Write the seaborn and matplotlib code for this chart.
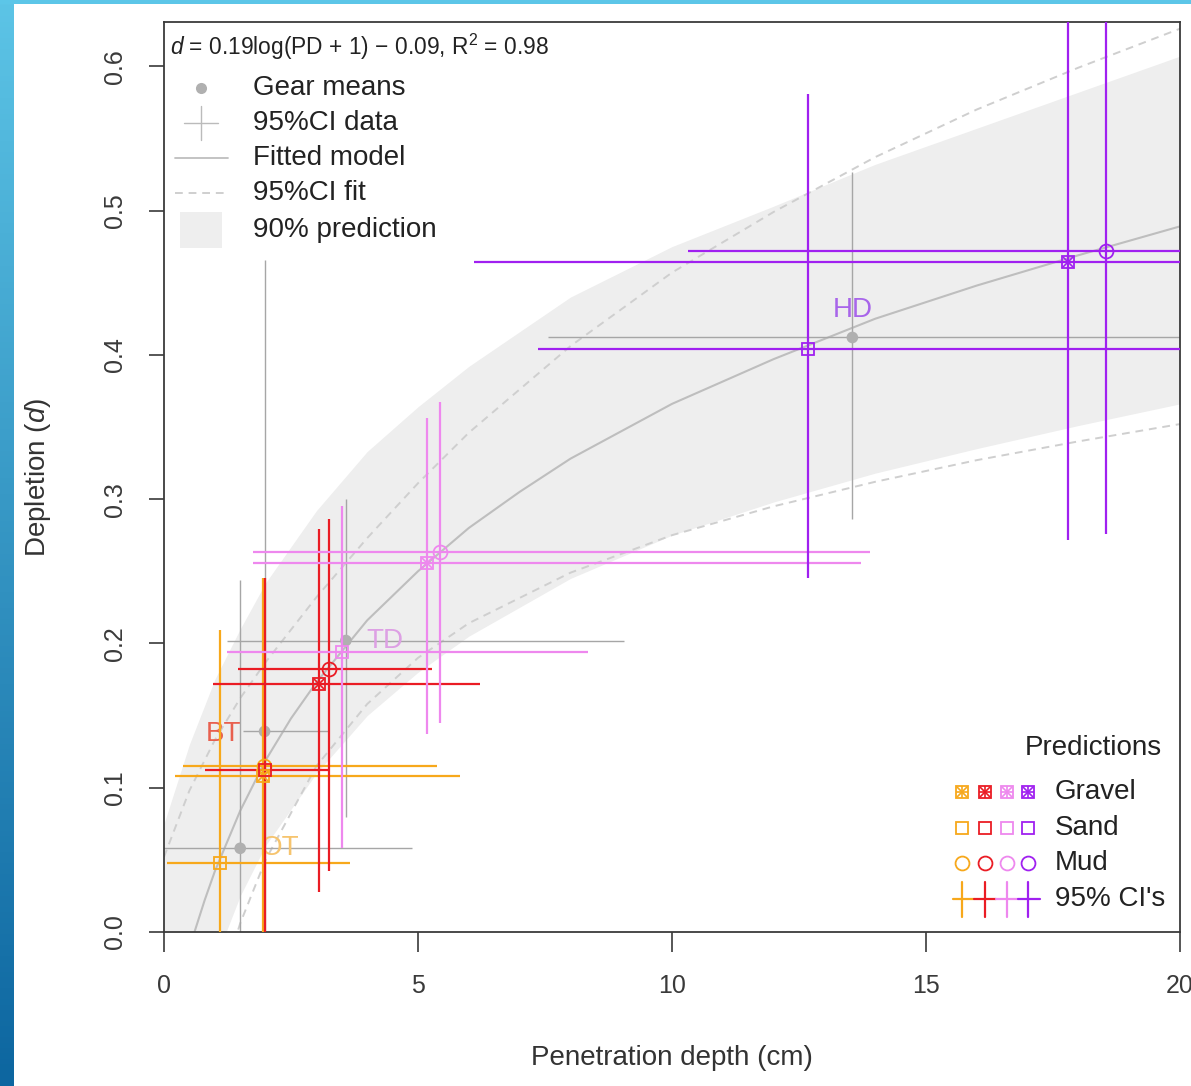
import numpy as np
import pandas as pd
import matplotlib
matplotlib.use("Agg")
import matplotlib.pyplot as plt
import seaborn as sns

# fitted model, 95% CI of fit and 90% prediction band
fit_x = [0.6, 0.8, 1, 1.5, 2, 2.5, 3, 4, 5, 6, 7, 8, 10, 12, 14, 16, 18, 20]
fit_y = [0.0, 0.022, 0.042, 0.084, 0.119, 0.148, 0.173, 0.216, 0.250, 0.280,
         0.305, 0.328, 0.366, 0.397, 0.425, 0.448, 0.469, 0.489]
ci_x = [0, 0.5, 1, 1.5, 2, 3, 4, 5, 6, 8, 10, 12, 14, 16, 18, 20]
ci_hi = [0.052, 0.098, 0.133, 0.162, 0.187, 0.232, 0.273, 0.311, 0.346, 0.406,
         0.457, 0.499, 0.537, 0.570, 0.599, 0.626]
ci_lo = [-0.232, -0.124, -0.050, 0.006, 0.050, 0.115, 0.158, 0.190, 0.214, 0.249,
         0.275, 0.295, 0.312, 0.327, 0.340, 0.352]
band_x = [0, 0.5, 1, 1.5, 2, 3, 4, 5, 6, 8, 10, 12, 14, 16, 18, 20]
band_hi = [0.075, 0.130, 0.175, 0.210, 0.242, 0.292, 0.333, 0.364, 0.392, 0.440,
           0.475, 0.503, 0.532, 0.557, 0.582, 0.607]
band_lo = [-0.10, -0.06, -0.02, 0.025, 0.060, 0.110, 0.150, 0.180, 0.205, 0.245,
           0.275, 0.298, 0.318, 0.335, 0.351, 0.366]

# gear means with 95% CI of the data
gears = ["OT", "BT", "TD", "HD"]
gear_pd = [1.50, 1.98, 3.58, 13.55]
gear_d = [0.058, 0.139, 0.202, 0.412]
gear_pd_lo = [-0.30, 1.56, 1.24, 7.56]
gear_pd_hi = [4.88, 3.23, 9.05, 21.0]
gear_d_lo = [-0.05, -0.05, 0.080, 0.286]
gear_d_hi = [0.244, 0.466, 0.300, 0.527]
gear_colors = ["#F7A81B", "#EA1C24", "#EE88EE", "#A020F0"]
label_colors = ["#F6C46E", "#E8604F", "#DDA0E4", "#A865EA"]

# predictions for each gear and sediment
pred_gear = ["OT", "OT", "OT", "BT", "BT", "BT", "TD", "TD", "TD", "HD", "HD", "HD"]
pred_sed = ["Gravel", "Sand", "Mud"] * 4
pred_pd = [1.95, 1.10, 1.97, 3.06, 1.98, 3.24, 5.17, 3.50, 5.43, 17.80, 12.67, 18.55]
pred_d = [0.108, 0.048, 0.115, 0.172, 0.112, 0.182, 0.256, 0.194, 0.263, 0.464, 0.404, 0.472]
pred_pd_lo = [0.22, 0.05, 0.37, 0.96, 0.81, 1.46, 1.75, 1.24, 1.75, 6.10, 7.37, 10.31]
pred_pd_hi = [5.83, 3.66, 5.37, 6.22, 3.23, 5.28, 13.72, 8.35, 13.90, 24.0, 24.0, 24.0]
pred_d_lo = [-0.05, -0.05, -0.05, 0.028, -0.05, 0.042, 0.137, 0.058, 0.145, 0.272, 0.245, 0.276]
pred_d_hi = [0.245, 0.209, 0.240, 0.279, 0.245, 0.286, 0.356, 0.295, 0.367, 0.70, 0.581, 0.70]

preds = pd.DataFrame({"gear": pred_gear, "sediment": pred_sed, "pd": pred_pd, "d": pred_d,
                      "pd_lo": pred_pd_lo, "pd_hi": pred_pd_hi,
                      "d_lo": pred_d_lo, "d_hi": pred_d_hi})
palette = dict(zip(gears, gear_colors))

sns.set_theme(style="white")
plt.rcParams["font.family"] = ["Liberation Sans", "DejaVu Sans"]
plt.rcParams["mathtext.fontset"] = "custom"
plt.rcParams["mathtext.rm"] = "Liberation Sans"
plt.rcParams["mathtext.it"] = "Liberation Sans:italic"

fig = plt.figure(figsize=(11.91, 10.86), dpi=100)

# blue frame strips of the slide
strip = fig.add_axes([0, 0, 14 / 1191, 1])
strip.imshow(np.linspace(0, 1, 200).reshape(-1, 1), aspect="auto",
             cmap=matplotlib.colors.LinearSegmentedColormap.from_list("b", ["#5CC4E6", "#0D66A0"]))
strip.axis("off")
top = fig.add_axes([0, 1 - 4 / 1086, 1, 4 / 1086])
top.set_facecolor("#5CC6E8")
top.set_xticks([]); top.set_yticks([])
for s in top.spines.values():
    s.set_visible(False)

ax = fig.add_axes([0.1377, 0.1418, 0.8531, 0.8379])
ax.set_xlim(0, 20)
ax.set_ylim(0, 0.6306)

ax.fill_between(band_x, band_lo, band_hi, color="#EEEEEE", lw=0, zorder=0.5)
sns.lineplot(x=fit_x, y=fit_y, color="#BEBEBE", lw=1.5, ax=ax, zorder=1)
sns.lineplot(x=ci_x, y=ci_hi, color="#CFCFCF", lw=1.4, ls=(0, (4, 3)), ax=ax, zorder=1)
sns.lineplot(x=ci_x, y=ci_lo, color="#CFCFCF", lw=1.4, ls=(0, (4, 3)), ax=ax, zorder=1)

# gear means
ax.hlines(gear_d, gear_pd_lo, gear_pd_hi, color="#A6A6A6", lw=1.0, zorder=2)
ax.vlines(gear_pd, gear_d_lo, gear_d_hi, color="#A6A6A6", lw=1.0, zorder=2)
sns.scatterplot(x=gear_pd, y=gear_d, color="#B0B0B0", s=70, edgecolor="none", ax=ax, zorder=3)
offsets = {"OT": (0.4, 0.0, "left"), "BT": (-0.45, -0.002, "right"),
           "TD": (0.4, 0.0, "left"), "HD": (0.0, 0.019, "center")}
for g, x, y, c in zip(gears, gear_pd, gear_d, label_colors):
    dx, dy, ha = offsets[g]
    ax.text(x + dx, y + dy, g, color=c, fontsize=20, ha=ha, va="center", zorder=2.5)


def draw_marker(ax, x, y, sed, color, size=9, transform=None, z=5):
    kw = dict(color=color, ls="none", zorder=z, clip_on=False)
    if transform is not None:
        kw["transform"] = transform
    if sed == "Mud":
        ax.plot(x, y, marker="o", ms=size + 1, mfc="none", mew=1.3, **kw)
    else:
        ax.plot(x, y, marker="s", ms=size, mfc="none", mew=1.3, **kw)
    if sed == "Gravel":
        ax.plot(x, y, marker="+", ms=size, mew=1.2, **kw)
        ax.plot(x, y, marker="x", ms=size * 0.75, mew=1.2, **kw)


# predictions: CI crosses, then symbols
for _, r in preds.iterrows():
    c = palette[r["gear"]]
    ax.hlines(r["d"], r["pd_lo"], r["pd_hi"], color=c, lw=1.6, zorder=4)
    ax.vlines(r["pd"], r["d_lo"], r["d_hi"], color=c, lw=1.6, zorder=4)
for _, r in preds.iterrows():
    draw_marker(ax, r["pd"], r["d"], r["sediment"], palette[r["gear"]])

# axes styling
for s in ax.spines.values():
    s.set_color("#3A3A3A")
    s.set_linewidth(1.3)
ax.set_xticks([0, 5, 10, 15, 20])
ax.set_yticks([0.0, 0.1, 0.2, 0.3, 0.4, 0.5, 0.6])
ax.set_yticklabels(["0.0", "0.1", "0.2", "0.3", "0.4", "0.5", "0.6"])
ax.tick_params(axis="x", direction="out", length=14.4, width=1.2, pad=16, labelsize=18,
               colors="#3A3A3A", bottom=True)
ax.tick_params(axis="y", direction="out", length=10.8, width=1.2, pad=16, labelsize=18,
               colors="#3A3A3A", left=True, labelrotation=90)
for lbl in ax.get_yticklabels():
    lbl.set_va("center")
ax.set_xlabel("Penetration depth (cm)", fontsize=20, color="#333333")
ax.set_ylabel("Depletion ($\\it{d}$)", fontsize=20, color="#333333")
ax.xaxis.set_label_coords(0.5, (932 - 1058) / 910)
ax.xaxis.label.set_va("center")
ax.yaxis.set_label_coords((38 - 164) / 1016, 0.5)
ax.yaxis.label.set_va("center")


def fx(px):
    return (px - 164) / 1016


def fy(py):
    return (932 - py) / 910


T = ax.transAxes
# top-left legend
ax.text(fx(170), fy(47), "$\\it{d}$ = 0.19log(PD + 1) \u2212 0.09, R$^2$ = 0.98",
        transform=T, fontsize=16.4, va="center", ha="left", color="#222222")
rows = [88, 123, 158, 193, 230]
names = ["Gear means", "95%CI data", "Fitted model", "95%CI fit", "90% prediction"]
for py, name in zip(rows, names):
    ax.text(fx(253), fy(py), name, transform=T, fontsize=20, va="center", ha="left",
            color="#222222")
ax.plot(fx(201), fy(88), "o", ms=8, color="#B0B0B0", mec="none", transform=T)
ax.plot([fx(184), fx(218)], [fy(123)] * 2, color="#BBBBBB", lw=1, transform=T)
ax.plot([fx(201)] * 2, [fy(106), fy(140)], color="#BBBBBB", lw=1, transform=T)
ax.plot([fx(175), fx(228)], [fy(158)] * 2, color="#BEBEBE", lw=1.3, transform=T)
ax.plot([fx(175), fx(228)], [fy(193)] * 2, color="#CFCFCF", lw=1.4, ls=(0, (4, 3)),
        transform=T)
ax.add_patch(plt.Rectangle((fx(180), fy(248)), fx(222) - fx(180), fy(212) - fy(248),
                           transform=T, color="#EEEEEE", lw=0))

# bottom-right legend
ax.text(fx(1162), fy(748), "Predictions", transform=T, fontsize=20, ha="right",
        va="center", color="#222222")
sym_x = [962, 985, 1007, 1028]
seds = ["Gravel", "Sand", "Mud"]
for py, sed in zip([792, 828, 863], seds):
    for px, c in zip(sym_x, gear_colors):
        draw_marker(ax, fx(px), fy(py), sed, c, transform=T)
    ax.text(fx(1055), fy(py), sed, transform=T, fontsize=20, va="center", ha="left",
            color="#222222")
edges = [953, 974, 996, 1018, 1040]
for i, c in enumerate(gear_colors):
    ax.plot([fx(edges[i]), fx(edges[i + 1])], [fy(899)] * 2, color=c, lw=1.6, transform=T)
    ax.plot([fx(sym_x[i])] * 2, [fy(882), fy(917)], color=c, lw=1.6, transform=T)
ax.text(fx(1055), fy(899), "95% CI's", transform=T, fontsize=20, va="center", ha="left",
        color="#222222")

fig.savefig("out.png", dpi=100)
